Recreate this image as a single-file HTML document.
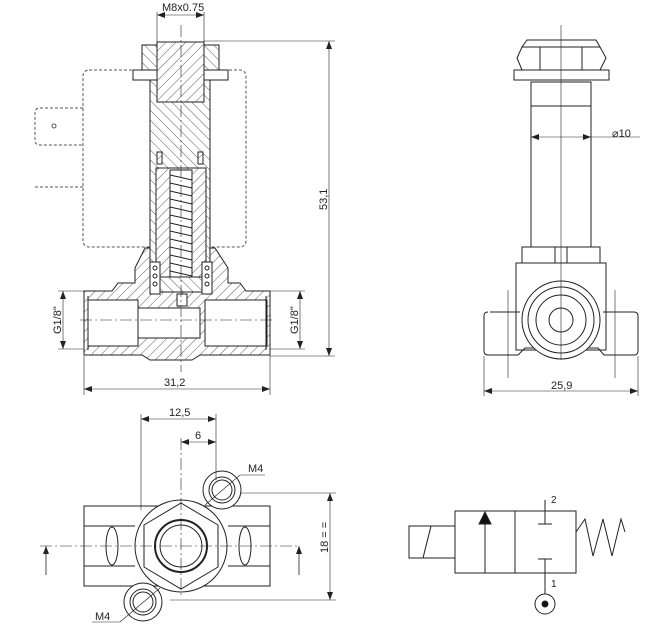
<!DOCTYPE html>
<html><head><meta charset="utf-8"><style>
html,body{margin:0;padding:0;background:#fff}
svg{display:block}
text{font-family:"Liberation Sans",sans-serif;font-size:11px;fill:#222}
</style></head><body>
<svg width="657" height="634" viewBox="0 0 657 634" xmlns="http://www.w3.org/2000/svg">
<defs>
<pattern id="h" width="7" height="7" patternUnits="userSpaceOnUse" patternTransform="rotate(45)">
<rect width="7" height="7" fill="#fff"/><line x1="0" y1="0" x2="0" y2="7" stroke="#333" stroke-width="0.8"/></pattern>
<pattern id="h2" width="7" height="7" patternUnits="userSpaceOnUse" patternTransform="rotate(-45)">
<rect width="7" height="7" fill="#fff"/><line x1="0" y1="0" x2="0" y2="7" stroke="#333" stroke-width="0.8"/></pattern>
<marker id="a" markerWidth="8" markerHeight="6" refX="8" refY="3" orient="auto-start-reverse" markerUnits="userSpaceOnUse"><path d="M0,0L8,3L0,6z" fill="#222"/></marker>
</defs>
<g stroke="#222" stroke-width="1" fill="none">
<rect x="83" y="70" width="163" height="177" rx="6" stroke-dasharray="3,2" stroke="#555"/>
<path d="M83,108 H40 Q35,108 35,113 V140 Q35,145 40,145 H83" stroke-dasharray="3,2" stroke="#555"/>
<line x1="35" y1="187" x2="83" y2="187" stroke-dasharray="3,2" stroke="#555"/>
<circle cx="54" cy="126" r="2" stroke="#555"/>
<path d="M84,291 H112 L118,283 H135 V268 L145,248 H215 L228,268 V283 H240 L246,291 H270 V355 H200 L192,360 H150 L142,355 H84 Z" fill="url(#h)"/>
<rect x="88" y="300" width="50" height="46" fill="#fff"/>
<rect x="138" y="308" width="62" height="30" fill="#fff"/>
<rect x="205" y="300" width="62" height="46" fill="#fff"/>
<line x1="88" y1="296" x2="88" y2="350"/><line x1="266" y1="296" x2="266" y2="350"/>
<rect x="150" y="80" width="60" height="190" fill="url(#h2)"/>
<rect x="157" y="42" width="47" height="60" fill="url(#h)"/>
<rect x="142" y="45" width="15" height="25" fill="url(#h2)"/><rect x="204" y="45" width="15" height="25" fill="url(#h2)"/>
<rect x="133" y="70" width="24" height="10" fill="#fff"/><rect x="204" y="70" width="24" height="10" fill="#fff"/>
<rect x="157" y="152" width="5" height="12" fill="url(#h)"/><rect x="198" y="152" width="5" height="12" fill="url(#h)"/>
<rect x="156" y="168" width="50" height="110" fill="url(#h)"/>
<rect x="170" y="170" width="22" height="108" fill="#fff"/>
<path d="M170,175 L192,180 M170,183 L192,188 M170,191 L192,196 M170,199 L192,204 M170,207 L192,212 M170,215 L192,220 M170,223 L192,228 M170,231 L192,236 M170,239 L192,244 M170,247 L192,252 M170,255 L192,260 M170,263 L192,268 M170,271 L192,276"/>
<rect x="160" y="277" width="42" height="15" fill="url(#h2)"/>
<rect x="150" y="262" width="10" height="32" fill="#fff"/><rect x="202" y="262" width="10" height="32" fill="#fff"/>
<circle cx="155" cy="268" r="2"/><circle cx="155" cy="276" r="2"/><circle cx="155" cy="284" r="2"/>
<circle cx="207" cy="268" r="2"/><circle cx="207" cy="276" r="2"/><circle cx="207" cy="284" r="2"/>
<rect x="177" y="294" width="10" height="12" fill="#fff"/>
<line x1="181" y1="25" x2="181" y2="372" stroke-dasharray="12,3,2,3" stroke-width="0.6"/>
<line x1="80" y1="320" x2="275" y2="320" stroke-dasharray="12,3,2,3" stroke-width="0.6"/>
<line x1="157" y1="12" x2="157" y2="42" stroke-width="0.6"/><line x1="204" y1="12" x2="204" y2="42" stroke-width="0.6"/>
<line x1="157" y1="15" x2="204" y2="15" stroke-width="0.6" marker-start="url(#a)" marker-end="url(#a)"/>
<line x1="204" y1="41" x2="335" y2="41" stroke-width="0.6"/>
<line x1="270" y1="356" x2="335" y2="356" stroke-width="0.6"/>
<line x1="329" y1="41" x2="329" y2="356" stroke-width="0.6" marker-start="url(#a)" marker-end="url(#a)"/>
<line x1="58" y1="291" x2="84" y2="291" stroke-width="0.6"/><line x1="58" y1="349" x2="84" y2="349" stroke-width="0.6"/>
<line x1="63" y1="291" x2="63" y2="349" stroke-width="0.6" marker-start="url(#a)" marker-end="url(#a)"/>
<line x1="270" y1="291" x2="305" y2="291" stroke-width="0.6"/><line x1="270" y1="349" x2="305" y2="349" stroke-width="0.6"/>
<line x1="300" y1="291" x2="300" y2="349" stroke-width="0.6" marker-start="url(#a)" marker-end="url(#a)"/>
<line x1="84" y1="356" x2="84" y2="395" stroke-width="0.6"/><line x1="270" y1="356" x2="270" y2="395" stroke-width="0.6"/>
<line x1="84" y1="389" x2="270" y2="389" stroke-width="0.6" marker-start="url(#a)" marker-end="url(#a)"/>

<path d="M522,47 L527,40 H596 L600,47" />
<path d="M517,58 L522,47 H600 L606,58 L600,70 H522 Z"/>
<line x1="540" y1="47" x2="540" y2="70"/><line x1="582" y1="47" x2="582" y2="70"/>
<rect x="514" y="70" width="95" height="10"/>
<rect x="531" y="82" width="60" height="165"/>
<line x1="531" y1="106" x2="591" y2="106"/>
<rect x="522" y="247" width="78" height="16"/>
<line x1="555" y1="247" x2="555" y2="263"/><line x1="567" y1="247" x2="567" y2="263"/>
<rect x="516" y="263" width="90" height="87"/>
<path d="M490,312 H520 M603,312 H634 Q638,312 638,316 V351 Q638,355 634,355 H604 L598,348 H525 L518,355 H488 Q484,355 484,351 V316 Q484,312 488,312"/>
<circle cx="561" cy="320" r="39" fill="#fff"/>
<circle cx="561" cy="320" r="33"/>
<circle cx="561" cy="320" r="25"/>
<circle cx="561" cy="320" r="12"/>
<line x1="561" y1="25" x2="561" y2="360" stroke-width="0.6"/>
<line x1="531" y1="137" x2="591" y2="137" stroke-width="0.6" marker-start="url(#a)" marker-end="url(#a)"/>
<line x1="591" y1="137" x2="640" y2="137" stroke-width="0.6"/>
<line x1="508" y1="290" x2="508" y2="378" stroke-width="0.6"/><line x1="615" y1="290" x2="615" y2="378" stroke-width="0.6"/>
<line x1="484" y1="356" x2="484" y2="396" stroke-width="0.6"/><line x1="638" y1="356" x2="638" y2="396" stroke-width="0.6"/>
<line x1="484" y1="391" x2="638" y2="391" stroke-width="0.6" marker-start="url(#a)" marker-end="url(#a)"/>

<rect x="84" y="506" width="186" height="80"/>
<line x1="84" y1="526" x2="135" y2="526"/><line x1="84" y1="566" x2="135" y2="566"/>
<line x1="228" y1="526" x2="270" y2="526"/><line x1="228" y1="566" x2="270" y2="566"/>
<ellipse cx="112" cy="546" rx="6" ry="19"/><ellipse cx="245" cy="546" rx="6" ry="19"/>
<circle cx="222" cy="490" r="19" fill="#fff"/><circle cx="222" cy="490" r="13"/><circle cx="222" cy="490" r="10"/>
<circle cx="143" cy="602" r="19" fill="#fff"/><circle cx="143" cy="602" r="13"/><circle cx="143" cy="602" r="10"/>
<circle cx="181" cy="546" r="46" fill="#fff"/>
<path d="M181,503 L218,525 L218,567 L181,589 L144,567 L144,525 Z"/>
<circle cx="181" cy="546" r="26" stroke-width="2"/><circle cx="181" cy="546" r="21"/>
<line x1="40" y1="546" x2="300" y2="546" stroke-dasharray="12,3,2,3" stroke-width="0.6"/>
<line x1="181" y1="438" x2="181" y2="595" stroke-dasharray="12,3,2,3" stroke-width="0.6"/>
<line x1="46" y1="546" x2="46" y2="575" stroke-width="0.8" marker-start="url(#a)"/>
<line x1="299" y1="546" x2="299" y2="575" stroke-width="0.8" marker-start="url(#a)"/>
<line x1="141" y1="414" x2="141" y2="510" stroke-width="0.6"/><line x1="216" y1="414" x2="216" y2="480" stroke-width="0.6"/>
<line x1="141" y1="419" x2="216" y2="419" stroke-width="0.6" marker-start="url(#a)" marker-end="url(#a)"/>
<line x1="181" y1="442" x2="216" y2="442" stroke-width="0.6" marker-start="url(#a)" marker-end="url(#a)"/>
<line x1="240" y1="493" x2="336" y2="493" stroke-width="0.6"/><line x1="170" y1="600" x2="336" y2="600" stroke-width="0.6"/>
<line x1="330" y1="493" x2="330" y2="600" stroke-width="0.6" marker-start="url(#a)" marker-end="url(#a)"/>
<line x1="205" y1="505" x2="240" y2="475" stroke-width="0.6"/><line x1="240" y1="475" x2="265" y2="475" stroke-width="0.6"/>
<line x1="160" y1="588" x2="120" y2="622" stroke-width="0.6"/><line x1="92" y1="622" x2="120" y2="622" stroke-width="0.6"/>

<rect x="455" y="511" width="121" height="62"/>
<line x1="515" y1="511" x2="515" y2="573"/>
<rect x="409" y="526" width="46" height="32"/>
<line x1="423" y1="558" x2="431" y2="526"/>
<line x1="485" y1="573" x2="485" y2="524"/>
<path d="M479,524 L485,512 L491,524 Z" fill="#111"/>
<line x1="545" y1="500" x2="545" y2="524"/><line x1="538" y1="524" x2="552" y2="524"/>
<line x1="538" y1="559" x2="552" y2="559"/><line x1="545" y1="559" x2="545" y2="594"/>
<circle cx="545" cy="604" r="10"/><circle cx="545" cy="604" r="3" fill="#111"/>
<path d="M576,532 L585,519 L593,556 L603,519 L612,556 L621,519 L625,532"/>
</g>
<text x="162" y="11">M8x0.75</text>
<text transform="translate(327,210) rotate(-90)">53,1</text>
<text transform="translate(61,334) rotate(-90)">G1/8"</text>
<text transform="translate(298,334) rotate(-90)">G1/8"</text>
<text x="164" y="386">31,2</text>
<text x="612" y="137">⌀10</text>
<text x="551" y="389">25,9</text>
<text x="169" y="416">12,5</text>
<text x="195" y="439">6</text>
<text x="248" y="472">M4</text>
<text x="95" y="620">M4</text>
<text transform="translate(328,553) rotate(-90)">18 = =</text>
<text x="551" y="503" style="font-size:10px">2</text>
<text x="551" y="587" style="font-size:10px">1</text>
</svg>
</body></html>
